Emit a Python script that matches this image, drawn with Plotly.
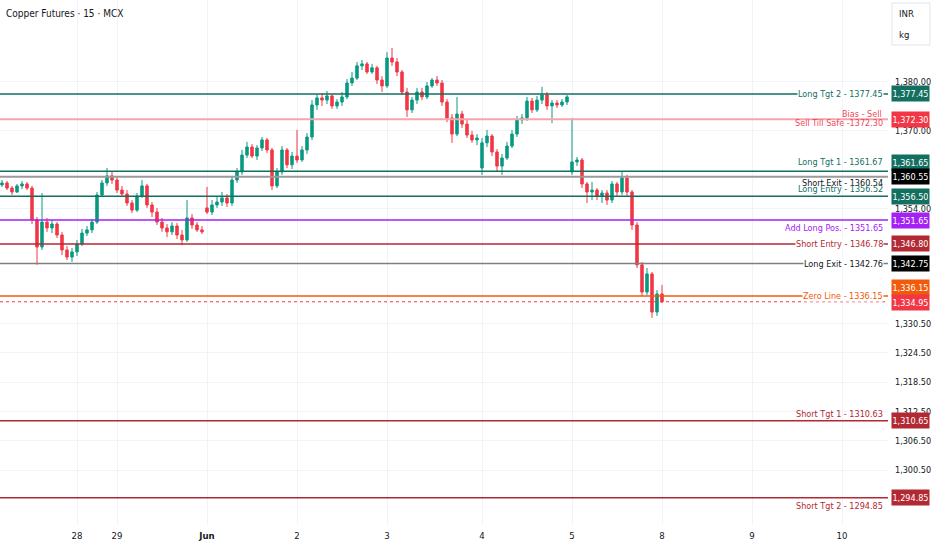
import plotly.graph_objects as go

# 15-min candles, Copper Futures (MCX)
opens = [1358.85, 1359.25, 1358.2, 1357.4, 1358.65, 1359.05, 1358.2, 1351.7, 1346.15, 1351.25,
         1350.05, 1350.85, 1348.6, 1345.55, 1344.1, 1345.15, 1346.75, 1349.0, 1349.65, 1351.25,
         1356.8, 1359.25, 1360.7, 1359.85, 1357.8, 1357.0, 1355.15, 1353.7, 1356.6, 1358.65,
         1354.75, 1353.3, 1351.25, 1350.05, 1349.25, 1350.45, 1348.6, 1347.6, 1352.1, 1350.65,
         1349.65, 1354.15, 1353.3, 1354.75, 1355.35, 1356.2, 1355.15, 1359.85, 1361.5, 1364.95,
         1366.6, 1364.75, 1366.4, 1368.05, 1366.0, 1358.65, 1361.5, 1366.0, 1362.95, 1364.75,
         1363.95, 1366.0, 1368.65, 1375.2, 1376.65, 1376.2, 1377.05, 1375.0, 1375.8, 1376.85,
         1379.7, 1380.7, 1383.2, 1383.6, 1381.95, 1382.8, 1380.3, 1379.1, 1384.8, 1384.0,
         1381.95, 1377.85, 1374.2, 1376.2, 1377.85, 1376.85, 1379.1, 1380.3, 1379.7, 1375.8,
         1372.55, 1369.25, 1373.35, 1371.3, 1369.05, 1368.05, 1362.3, 1367.45, 1368.85, 1365.6,
         1362.7, 1364.35, 1366.8, 1369.25, 1372.15, 1372.55, 1376.0, 1374.2, 1376.2, 1377.25,
         1375.0, 1375.6, 1375.2, 1375.8, 1361.5, 1363.55, 1363.95, 1359.05, 1357.4, 1357.8,
         1356.6, 1357.2, 1355.75, 1359.05, 1357.4, 1360.25, 1357.4, 1350.65, 1342.5, 1336.95,
         1340.65, 1332.85, 1336.55]
highs = [1359.85, 1359.65, 1358.65, 1359.05, 1359.65, 1359.45, 1358.65, 1352.3, 1357.2, 1352.1,
         1351.7, 1351.25, 1349.25, 1346.35, 1345.95, 1347.6, 1349.85, 1350.45, 1351.9, 1357.4,
         1359.85, 1362.3, 1361.7, 1360.45, 1358.65, 1357.8, 1355.75, 1357.2, 1359.85, 1359.05,
         1355.35, 1354.15, 1352.1, 1350.85, 1351.25, 1351.05, 1349.65, 1355.75, 1352.9, 1351.25,
         1350.45, 1358.45, 1355.75, 1356.6, 1357.4, 1357.0, 1360.7, 1362.3, 1366.0, 1367.65,
         1367.2, 1367.0, 1368.65, 1368.45, 1366.4, 1362.3, 1366.8, 1366.4, 1365.6, 1370.1,
         1366.8, 1369.45, 1376.2, 1377.45, 1377.65, 1378.05, 1377.45, 1376.4, 1377.85, 1380.5,
         1381.95, 1384.0, 1384.4, 1384.0, 1383.6, 1383.2, 1381.1, 1386.0, 1386.85, 1384.8,
         1382.35, 1378.7, 1376.85, 1378.7, 1378.7, 1379.9, 1380.7, 1381.1, 1380.3, 1376.4,
         1373.35, 1376.85, 1374.0, 1372.15, 1369.9, 1369.25, 1368.45, 1370.1, 1369.25, 1366.2,
         1365.2, 1367.65, 1370.1, 1372.95, 1373.35, 1376.85, 1376.65, 1377.05, 1378.9, 1377.85,
         1376.2, 1376.2, 1376.4, 1377.25, 1372.55, 1364.55, 1364.35, 1359.45, 1359.45, 1358.2,
         1357.8, 1357.8, 1359.65, 1359.45, 1361.5, 1360.9, 1357.8, 1351.25, 1343.1, 1341.85,
         1341.05, 1337.35, 1338.4]
lows = [1358.45, 1357.8, 1356.8, 1357.2, 1358.0, 1357.8, 1350.85, 1342.5, 1345.55, 1349.25,
        1349.0, 1348.0, 1344.5, 1343.5, 1343.1, 1344.3, 1346.35, 1348.4, 1349.0, 1350.85,
        1356.4, 1358.65, 1359.05, 1357.2, 1356.4, 1354.55, 1353.1, 1353.3, 1356.2, 1354.15,
        1352.3, 1350.65, 1349.25, 1348.2, 1348.6, 1347.8, 1346.55, 1347.2, 1349.85, 1349.25,
        1348.8, 1352.9, 1352.7, 1354.15, 1354.55, 1354.35, 1354.55, 1359.25, 1360.9, 1364.35,
        1364.35, 1363.95, 1365.8, 1365.4, 1357.8, 1358.2, 1360.9, 1362.3, 1362.1, 1363.35,
        1363.55, 1365.2, 1368.05, 1374.2, 1375.0, 1375.4, 1374.4, 1374.4, 1375.0, 1376.4,
        1379.1, 1380.3, 1382.35, 1381.55, 1381.55, 1379.5, 1377.85, 1378.7, 1383.2, 1381.1,
        1377.25, 1372.75, 1373.55, 1375.4, 1376.2, 1376.4, 1378.7, 1379.1, 1375.0, 1371.7,
        1367.45, 1368.85, 1370.5, 1368.45, 1367.45, 1367.0, 1360.9, 1366.6, 1364.75, 1361.5,
        1360.9, 1363.95, 1366.4, 1368.65, 1371.3, 1371.95, 1373.55, 1373.75, 1375.4, 1374.2,
        1371.5, 1374.6, 1374.8, 1375.2, 1360.9, 1362.7, 1358.2, 1355.15, 1355.75, 1355.75,
        1355.15, 1354.75, 1355.15, 1356.6, 1356.8, 1356.6, 1349.65, 1341.85, 1336.15, 1336.35,
        1331.65, 1332.05, 1334.7]
closes = [1359.25, 1358.2, 1357.4, 1358.65, 1359.05, 1358.2, 1351.7, 1346.15, 1351.25, 1350.05,
          1350.85, 1348.6, 1345.55, 1344.1, 1345.15, 1346.75, 1349.0, 1349.65, 1351.25, 1356.8,
          1359.25, 1360.7, 1359.85, 1357.8, 1357.0, 1355.15, 1353.7, 1356.6, 1358.65, 1354.75,
          1353.3, 1351.25, 1350.05, 1349.25, 1350.45, 1348.6, 1347.6, 1352.1, 1350.65, 1349.65,
          1349.25, 1353.3, 1354.75, 1355.35, 1356.2, 1355.15, 1359.85, 1361.5, 1364.95, 1366.6,
          1364.75, 1366.4, 1368.05, 1366.0, 1358.65, 1361.5, 1366.0, 1362.95, 1364.75, 1363.95,
          1366.0, 1368.65, 1375.2, 1376.65, 1376.2, 1377.05, 1375.0, 1375.8, 1376.85, 1379.7,
          1380.7, 1383.2, 1383.6, 1381.95, 1382.8, 1380.3, 1379.1, 1384.8, 1384.0, 1381.95,
          1377.85, 1374.2, 1376.2, 1377.85, 1376.85, 1379.1, 1380.3, 1379.7, 1375.8, 1372.55,
          1369.25, 1373.35, 1371.3, 1369.05, 1368.05, 1368.45, 1367.45, 1368.85, 1365.6, 1362.7,
          1364.35, 1366.8, 1369.25, 1372.15, 1372.55, 1376.0, 1374.2, 1376.2, 1377.25, 1375.0,
          1375.6, 1375.2, 1375.8, 1376.85, 1363.55, 1363.95, 1359.05, 1357.4, 1357.8, 1356.6,
          1357.2, 1355.75, 1359.05, 1357.4, 1360.25, 1357.4, 1350.65, 1342.5, 1336.95, 1340.65,
          1332.85, 1336.55, 1334.95]

# first bar of each session and its label
day_ticks = [15, 23, 41, 59, 77, 96, 114, 132, 150, 168]
day_labels = ["28", "29", "<b>Jun</b>", "2", "3", "4", "5", "8", "9", "10"]

price_ticks = [1300.5, 1306.5, 1312.5, 1318.5, 1324.5, 1330.5, 1354.0, 1370.0, 1380.0]

# indicator levels
level_names = ["Long Tgt 2 - 1377.45", "Sell Till Safe -1372.30", "Long Tgt 1 - 1361.67",
               "Short Exit - 1360.54", "Long Entry - 1356.52", "Add Long Pos. - 1351.65",
               "Short Entry - 1346.78", "Long Exit - 1342.76", "Zero Line - 1336.15",
               "Short Tgt 1 - 1310.63", "Short Tgt 2 - 1294.85"]
level_values = [1377.45, 1372.30, 1361.67, 1360.54, 1356.52, 1351.65, 1346.78, 1342.76,
                1336.15, 1310.63, 1294.85]
level_tags = [1377.45, 1372.30, 1361.65, 1360.55, 1356.50, 1351.65, 1346.80, 1342.75,
              1336.15, 1310.65, 1294.85]
bias_text = "Bias - Sell"
last_price = 1334.95

# styles: line colour, tag colour, line width, label shift px, tag shift px, text colour
TEAL = "#136f5f"
DRED = "#b22833"
styles = [
    (TEAL, TEAL, 1.5, 0, 0, TEAL),
    ("#f7a4ab", "#f23645", 2, -4, 0, "#f0485a"),
    (TEAL, TEAL, 1.5, 9, 9, TEAL),
    ("#9a9a9a", "#000000", 2, -6, 0, "#131722"),
    (TEAL, TEAL, 1.5, 7, 0, TEAL),
    ("#a321f5", "#a321f5", 1.5, -8, 0, "#a321f5"),
    (DRED, DRED, 1.5, 0, 0, DRED),
    ("#7f7f7f", "#000000", 1.5, 0, 0, "#131722"),
    ("#f05a0a", "#f05a0a", 1.5, 0, 8, "#f05a0a"),
    (DRED, DRED, 1.5, 7, 0, DRED),
    (DRED, DRED, 1.5, -8, 0, DRED),
]

FONT = "DejaVu Sans Condensed, Liberation Sans Narrow, sans-serif"
PLOT_H = 524
PLOT_W = 888

fig = go.Figure()
fig.add_trace(go.Candlestick(
    x=list(range(len(closes))),
    open=opens, high=highs, low=lows, close=closes,
    increasing=dict(line=dict(color="#089981", width=1), fillcolor="#089981"),
    decreasing=dict(line=dict(color="#f23645", width=1), fillcolor="#f23645"),
    whiskerwidth=0,
    hoverinfo="skip",
    showlegend=False,
))

for name, val, tag, st in zip(level_names, level_values, level_tags, styles):
    lcol, tcol, lw, ysh, tsh, txtcol = st
    fig.add_shape(type="line", xref="paper", x0=0, x1=1, yref="y", y0=val, y1=val,
                  line=dict(color=lcol, width=lw))
    fig.add_annotation(x=1, xref="paper", y=val, yref="y", xanchor="right", yanchor="middle",
                       xshift=-4, yshift=ysh, text=name, showarrow=False,
                       bgcolor="white" if ysh == 0 else "rgba(0,0,0,0)", borderpad=0,
                       font=dict(family=FONT, size=9, color=txtcol))
    fig.add_annotation(x=1, xref="paper", y=val, yref="y", xanchor="left", yanchor="middle",
                       xshift=3, yshift=tsh, text=f"{tag:,.2f}", showarrow=False,
                       bgcolor=tcol, width=35, height=13, borderpad=1,
                       font=dict(family=FONT, size=9, color="white"))

fig.add_annotation(x=1, xref="paper", y=level_values[1], yref="y", xanchor="right",
                   yanchor="middle", xshift=-4, yshift=5, text=bias_text, showarrow=False,
                   font=dict(family=FONT, size=9, color="#f0485a"))

# last price
fig.add_shape(type="line", xref="paper", x0=0, x1=1, yref="y", y0=last_price, y1=last_price,
              line=dict(color="#f23645", width=1, dash="dot"))
fig.add_annotation(x=1, xref="paper", y=last_price, yref="y", xanchor="left", yanchor="middle",
                   xshift=3, yshift=-1, text=f"{last_price:,.2f}", showarrow=False,
                   bgcolor="#f23645", width=35, height=13, borderpad=1,
                   font=dict(family=FONT, size=9, color="white"))

# currency / unit box
fig.add_shape(type="rect", xref="paper", yref="paper", x0=892 / PLOT_W, x1=930 / PLOT_W,
              y0=1 - 45 / PLOT_H, y1=1 - 3 / PLOT_H,
              line=dict(color="#e0e3eb", width=1), fillcolor="white")
fig.add_annotation(x=897 / PLOT_W, xref="paper", y=1 - 14 / PLOT_H, yref="paper",
                   xanchor="left", yanchor="middle", text="INR", showarrow=False,
                   font=dict(family=FONT, size=9.5, color="#131722"))
fig.add_annotation(x=897 / PLOT_W, xref="paper", y=1 - 34 / PLOT_H, yref="paper",
                   xanchor="left", yanchor="middle", text="kg", showarrow=False,
                   font=dict(family=FONT, size=9.5, color="#131722"))

fig.add_annotation(x=4 / PLOT_W, xref="paper", y=1 - 13 / PLOT_H, yref="paper",
                   xanchor="left", yanchor="middle", text="Copper Futures · 15 · MCX",
                   showarrow=False, font=dict(family=FONT, size=10, color="#131722"))

fig.update_layout(
    width=932, height=550,
    margin=dict(l=0, r=44, t=0, b=26),
    paper_bgcolor="white", plot_bgcolor="white",
    font=dict(family=FONT, size=9, color="#131722"),
    showlegend=False,
    xaxis=dict(range=[-0.4, 177.2], tickvals=day_ticks, ticktext=day_labels,
               showgrid=True, gridcolor="#f0f3fa", zeroline=False, ticks="",
               rangeslider=dict(visible=False), automargin=False, fixedrange=True,
               ticklabelstandoff=4,
               tickfont=dict(family=FONT, size=9.5, color="#131722")),
    yaxis=dict(side="right", range=[1289.5, 1396.67], tickvals=price_ticks,
               tickformat=",.2f", showgrid=True, gridcolor="#f0f3fa", zeroline=False,
               ticks="", automargin=False, ticklabelstandoff=6, fixedrange=True,
               tickfont=dict(family=FONT, size=9, color="#131722")),
)

fig.write_html("out.html", config={"displayModeBar": False},
               post_script="document.body.style.margin='0';")
